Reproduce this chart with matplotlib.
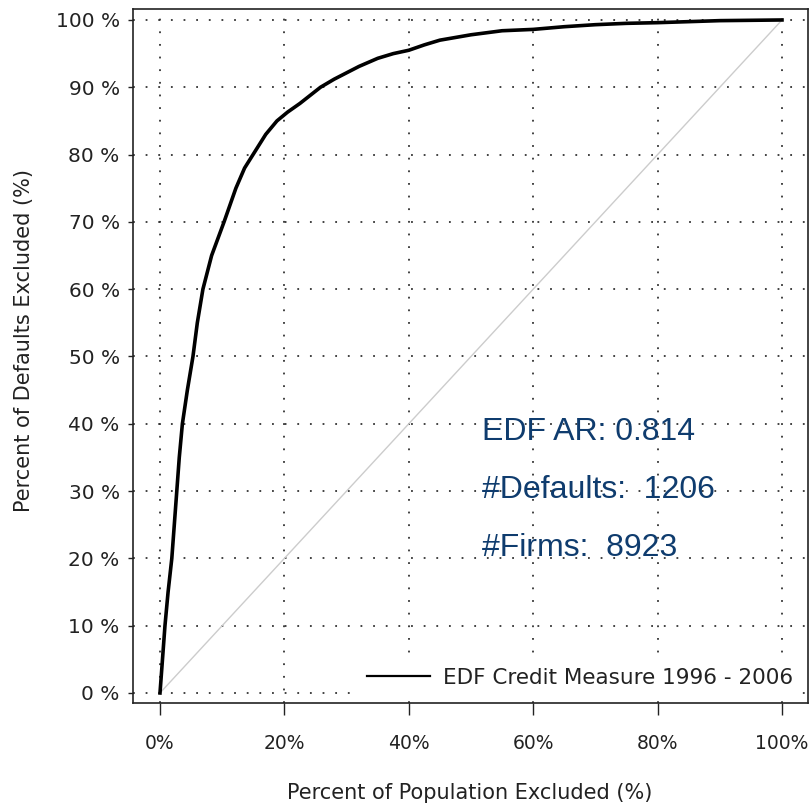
import matplotlib
matplotlib.use("Agg")
import matplotlib.pyplot as plt

plt.rcParams['font.family'] = ['DejaVu Sans']
plt.rcParams['font.size'] = 14

# CAP curve: share of population excluded vs share of defaults excluded (%)
pop_excluded = [0, 0.4, 0.8, 1.3, 1.9, 2.3, 2.7, 3.1, 3.6, 4.4, 5.3, 6.0,
                6.9, 8.3, 10.3, 12.2, 13.6, 15.3, 17.0, 18.8, 20.5, 22.5,
                25.8, 28.0, 32.0, 35.0, 37.5, 40.0, 42.5, 45.0, 50.0, 55.0,
                60.0, 65.0, 70.0, 75.0, 80.0, 90.0, 100.0]
defaults_excluded = [0, 5, 10, 15, 20, 25, 30, 35, 40, 45, 50, 55,
                     60, 65, 70, 75, 78, 80.5, 83, 85, 86.3, 87.6,
                     90, 91.2, 93.1, 94.3, 95.0, 95.5, 96.3, 97.0, 97.8, 98.4,
                     98.6, 99.0, 99.3, 99.5, 99.6, 99.9, 100]
random_model = [0, 100]

x_ticks = [0, 20, 40, 60, 80, 100]
x_tick_labels = ['0%', '20%', '40%', '60%', '80%', '100%']
y_ticks = list(range(0, 101, 10))
y_tick_labels = ['{} %'.format(v) for v in y_ticks]

series_label = 'EDF Credit Measure 1996 - 2006'
stats_lines = ['EDF AR: 0.814', '#Defaults:  1206', '#Firms:  8923']

fig = plt.figure(figsize=(8.09, 8.06), dpi=100)
ax = fig.add_axes([133 / 809, 103 / 806, 675 / 809, 694 / 806])

ax.plot(random_model, random_model, color='#cccccc', lw=1.0, zorder=2)
curve, = ax.plot(pop_excluded, defaults_excluded, color='black', lw=2.6,
                 label=series_label, zorder=3)

ax.set_xlim(-4.34, 104.18)
ax.set_ylim(-1.49, 101.63)
ax.set_xticks(x_ticks)
ax.set_xticklabels(x_tick_labels)
ax.set_yticks(y_ticks)
ax.set_yticklabels(y_tick_labels)

ax.tick_params(axis='x', direction='out', length=8.6, width=1.0, pad=14,
               colors='#222222', labelsize=13.5)
ax.tick_params(axis='y', direction='out', length=3.6, width=1.0, pad=6,
               colors='#222222', labelsize=14.5)
for s in ax.spines.values():
    s.set_linewidth(1.2)
    s.set_color('#222222')

ax.grid(True, color='#333333', linestyle=(0, (1, 6)), linewidth=1.3)
ax.set_axisbelow(True)

fig.text(24 / 809, 1 - 340 / 806, 'Percent of Defaults Excluded (%)',
         rotation=90, ha='center', va='center', fontsize=15, color='#222222')
fig.text(470 / 809, 1 - 793 / 806, 'Percent of Population Excluded (%)',
         ha='center', va='center', fontsize=15, color='#222222')

for i, line in enumerate(stats_lines):
    ax.text(51.8, 38.8 - i * 8.6, line, fontsize=23,
            family=['Liberation Sans', 'DejaVu Sans'],
            color='#0f3c6e', ha='left', va='center', zorder=4)

leg = ax.legend(loc='lower right', bbox_to_anchor=(1.0, 0.0), borderaxespad=0.3,
                frameon=True, fancybox=False, framealpha=1, facecolor='white',
                edgecolor='none', handlelength=2.9, handletextpad=0.6,
                fontsize=15.5, labelcolor='#222222')
for h in leg.legend_handles:
    h.set_linewidth(1.6)

fig.savefig('out.png', dpi=100)
